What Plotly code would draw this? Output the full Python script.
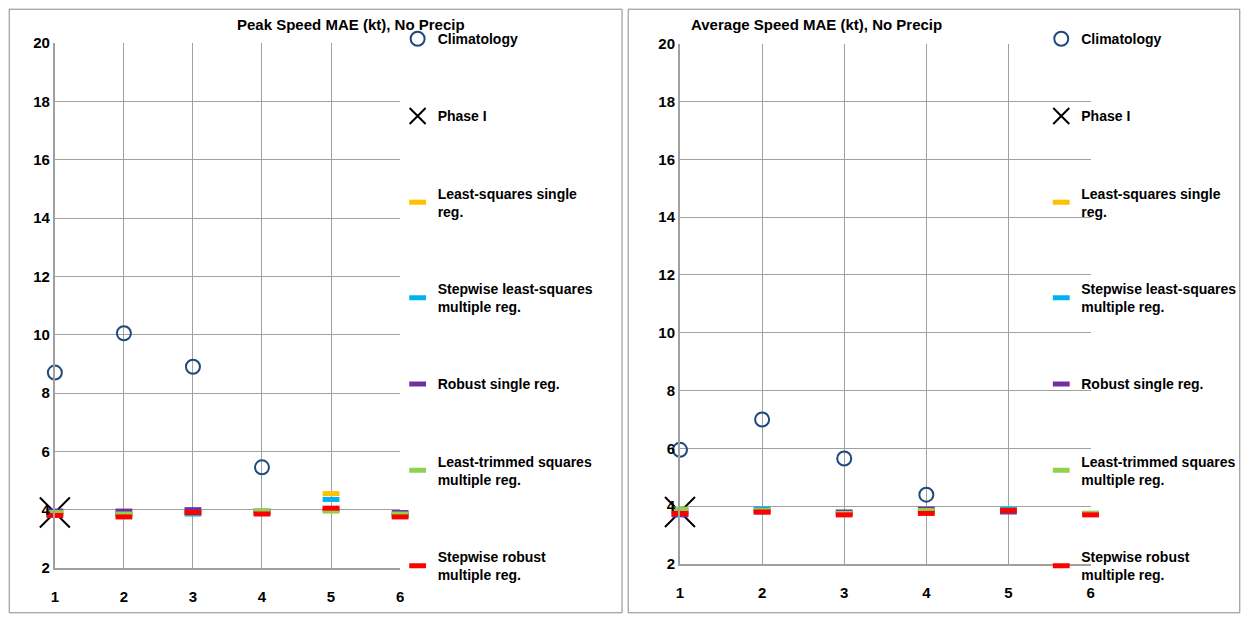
import plotly.graph_objects as go
from plotly.subplots import make_subplots

x_vals = [1, 2, 3, 4, 5, 6]

series_names = ["Climatology", "Phase I", "Least-squares single<br>reg.",
                "Stepwise least-squares<br>multiple reg.", "Robust single reg.",
                "Least-trimmed squares<br>multiple reg.", "Stepwise robust<br>multiple reg."]

# peak speed panel
peak_clim = [8.7, 10.05, 8.9, 5.45, None, None]
peak_phase1 = [3.9, None, None, None, None, None]
peak_ls = [3.85, 3.85, 3.9, 3.9, 4.55, 3.8]
peak_step_ls = [3.85, 3.85, 3.85, 3.9, 4.35, 3.8]
peak_robust = [3.95, 3.95, 4.0, 3.95, 4.0, 3.9]
peak_lts = [3.9, 3.85, 3.9, 3.95, 3.95, 3.85]
peak_step_rob = [3.8, 3.75, 3.9, 3.85, 4.05, 3.75]

# average speed panel
avg_clim = [5.95, 7.0, 5.65, 4.4, None, None]
avg_phase1 = [3.8, None, None, None, None, None]
avg_ls = [3.8, 3.85, 3.75, 3.8, 3.9, 3.75]
avg_step_ls = [3.85, 3.9, 3.75, 3.85, 3.9, 3.75]
avg_robust = [3.7, 3.8, 3.8, 3.9, 3.8, 3.75]
avg_lts = [3.9, 3.85, 3.75, 3.85, 3.85, 3.75]
avg_step_rob = [3.75, 3.8, 3.7, 3.75, 3.85, 3.7]

dash_colors = ["#FFC000", "#00B0F0", "#7030A0", "#92D050", "#FF0000"]
font = "Liberation Sans"

fig = make_subplots(rows=1, cols=2)


def add_panel(col, clim, phase1, dashes, legend):
    fig.add_trace(go.Scatter(x=x_vals, y=clim, mode="markers", name=series_names[0],
                             marker=dict(symbol="circle-open", size=14, color="#1F497D",
                                         line=dict(width=2, color="#1F497D")),
                             cliponaxis=False, legend=legend, legendgroup=legend + "0"),
                  row=1, col=col)
    fig.add_trace(go.Scatter(x=x_vals, y=phase1, mode="markers", name=series_names[1],
                             marker=dict(symbol="x-thin-open", size=30, color="black",
                                         line=dict(width=2, color="black")),
                             cliponaxis=False, legend=legend, legendgroup=legend + "1"),
                  row=1, col=col)
    for i, (vals, c) in enumerate(zip(dashes, dash_colors)):
        fig.add_trace(go.Scatter(x=x_vals, y=vals, mode="markers", name=series_names[i + 2],
                                 marker=dict(symbol="line-ew-open", size=12, color=c,
                                             line=dict(width=5, color=c)),
                                 cliponaxis=False, legend=legend, legendgroup=legend + str(i + 2)),
                      row=1, col=col)


add_panel(1, peak_clim, peak_phase1,
          [peak_ls, peak_step_ls, peak_robust, peak_lts, peak_step_rob], "legend")
add_panel(2, avg_clim, avg_phase1,
          [avg_ls, avg_step_ls, avg_robust, avg_lts, avg_step_rob], "legend2")

axis_style = dict(showgrid=True, gridcolor="#A0A0A0", gridwidth=1, showline=True,
                  linecolor="#A0A0A0", linewidth=2, zeroline=False,
                  tickfont=dict(family=font, size=15, color="black", weight="bold"))
fig.update_xaxes(range=[1, 6], dtick=1, ticks="", ticklabelstandoff=14, **axis_style)
fig.update_yaxes(range=[2, 20], dtick=2, ticks="", **axis_style)
fig.update_xaxes(domain=[0.038, 0.318], row=1, col=1)
fig.update_xaxes(domain=[0.545, 0.878], row=1, col=2)
fig.update_yaxes(domain=[0.076, 0.942], row=1, col=1)
fig.update_yaxes(domain=[0.0825, 0.941], row=1, col=2)

legend_style = dict(font=dict(family=font, size=14, color="black", weight="bold"),
                    yanchor="top", y=0.975, tracegroupgap=56, bgcolor="rgba(0,0,0,0)",
                    itemwidth=30)

fig.update_layout(
    width=1233, height=606, margin=dict(l=0, r=0, t=0, b=0, autoexpand=False),
    plot_bgcolor="white", paper_bgcolor="white",
    legend=dict(x=0.316, **legend_style),
    legend2=dict(x=0.838, **legend_style),
    shapes=[
        dict(type="rect", xref="paper", yref="paper", x0=0.001, x1=0.498, y0=0.002, y1=0.998,
             line=dict(color="#888888", width=1)),
        dict(type="rect", xref="paper", yref="paper", x0=0.503, x1=0.999, y0=0.002, y1=0.998,
             line=dict(color="#888888", width=1)),
    ],
    annotations=[
        dict(text="Peak Speed MAE (kt), No Precip", xref="paper", yref="paper", x=0.184, y=0.99,
             yanchor="top", showarrow=False,
             font=dict(family=font, size=15, color="black", weight="bold")),
        dict(text="Average Speed MAE (kt), No Precip", xref="paper", yref="paper", x=0.656, y=0.99,
             yanchor="top", showarrow=False,
             font=dict(family=font, size=15, color="black", weight="bold")),
    ],
)

fig.write_html("out.html")
